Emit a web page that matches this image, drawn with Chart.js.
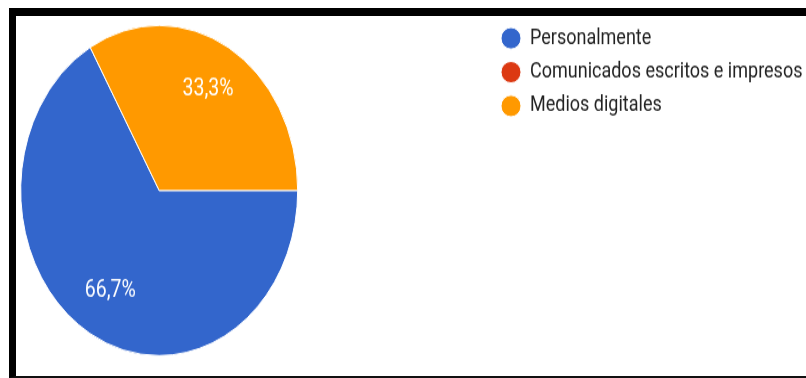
<!DOCTYPE html>
<html>
<head>
<meta charset="utf-8">
<title>Canales de comunicación</title>
<script src="https://cdn.jsdelivr.net/npm/chart.js@4"></script>
<style>
  html, body { margin: 0; padding: 0; background: #fff; overflow: hidden; }
  body { width: 806px; height: 378px; position: relative; }
  /* heavy black frame on top, left and bottom */
  #frame {
    position: absolute; left: 9px; top: 8px; width: 820px; height: 360px;
    border-top: 8px solid #000; border-left: 7px solid #000; border-bottom: 2px solid #111;
  }
  /* chart is drawn flat and stretched vertically */
  #wrap { position: absolute; left: -200px; top: 0; transform: scaleY(1.192); transform-origin: 0 0; }
  canvas { display: block; }
</style>
</head>
<body>
<div id="frame"></div>
<div id="wrap"><canvas id="chart" width="1006" height="317"></canvas></div>
<script>
// answers and their share of responses (%)
var CATEGORIES = ['Personalmente', 'Comunicados escritos e impresos', 'Medios digitales'];
var SHARES = [66.7, 0, 33.3];
var COLORS = ['#3366cc', '#dc3912', '#ff9900'];

function formatShare(v) {
  return v.toFixed(1).replace('.', ',') + '%';
}

// percentage text inside each non-empty slice
var sliceLabels = {
  id: 'sliceLabels',
  afterDatasetsDraw: function(chart) {
    var ctx = chart.ctx;
    var meta = chart.getDatasetMeta(0);
    ctx.save();
    ctx.font = '19.5px Roboto';
    ctx.fillStyle = '#ffffff';
    ctx.textAlign = 'center';
    ctx.textBaseline = 'middle';
    meta.data.forEach(function(arc, i) {
      var v = SHARES[i];
      if (!v) return;
      var p = arc.getProps(['x', 'y', 'startAngle', 'endAngle', 'outerRadius'], true);
      var mid = (p.startAngle + p.endAngle) / 2;
      var r = p.outerRadius * 0.705;
      ctx.fillText(formatShare(v), p.x + Math.cos(mid) * r, p.y + Math.sin(mid) * r);
    });
    ctx.restore();
  }
};

new Chart(document.getElementById('chart'), {
  type: 'pie',
  data: {
    labels: CATEGORIES,
    datasets: [{
      data: SHARES,
      backgroundColor: COLORS,
      borderColor: '#ffffff',
      borderWidth: 1,
      radius: 138.5,
      rotation: 90
    }]
  },
  options: {
    responsive: false,
    animation: false,
    events: [],
    layout: { padding: { left: 27.8, right: 0, top: 12.7, bottom: 10.1 } },
    plugins: {
      legend: {
        position: 'right',
        align: 'start',
        maxWidth: 315.4,
        labels: {
          usePointStyle: true,
          pointStyle: 'circle',
          pointStyleWidth: 20,
          boxHeight: 12.8,
          padding: 10.4,
          color: '#222222',
          font: { family: 'Roboto', size: 18 }
        }
      },
      tooltip: { enabled: false }
    }
  },
  plugins: [sliceLabels]
});
</script>
</body>
</html>
